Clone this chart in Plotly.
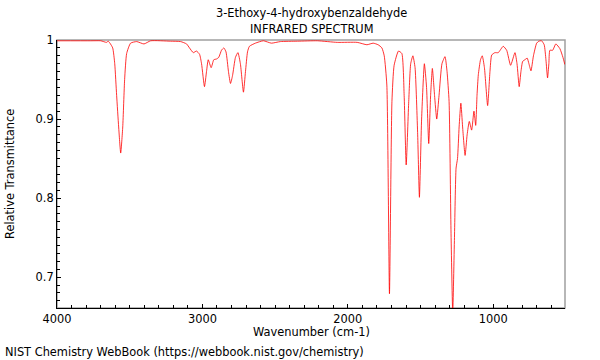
import plotly.graph_objects as go

title_line1 = "3-Ethoxy-4-hydroxybenzaldehyde"
title_line2 = "INFRARED SPECTRUM"
x_title = "Wavenumber (cm-1)"
y_title = "Relative Transmittance"
footer = "NIST Chemistry WebBook (https://webbook.nist.gov/chemistry)"

wavenumber = [
    4000, 3768, 3699, 3660, 3648, 3636, 3617, 3603, 3590, 3576, 3562, 3548, 3535, 3521,
    3494, 3452, 3402, 3356, 3219, 3150, 3109, 3089, 3063, 3041, 3020, 3006, 2986, 2972,
    2960, 2940, 2922, 2903, 2888, 2869, 2853, 2838, 2821, 2807, 2793, 2773, 2756, 2739,
    2718, 2704, 2690, 2677, 2636, 2581, 2526, 2464, 2347, 2210, 2073, 1936, 1869, 1826,
    1792, 1766, 1750, 1732, 1714, 1697, 1682, 1652, 1629, 1613, 1599, 1582, 1568, 1553,
    1538, 1520, 1508, 1493, 1474, 1459, 1444, 1431, 1419, 1404, 1389, 1373, 1353, 1332,
    1318, 1304, 1291, 1279, 1267, 1256, 1246, 1235, 1223, 1211, 1194, 1180, 1165, 1149,
    1133, 1121, 1112, 1103, 1088, 1076, 1061, 1039, 1023, 1011, 989, 966, 932, 908,
    881, 851, 837, 822, 810, 798, 783, 767, 755, 741, 724, 702, 687, 668, 650, 638,
    627, 618, 611, 592, 570, 542, 521, 508,
]
transmittance = [
    0.999, 0.999, 0.999, 0.997, 0.9985, 0.996, 0.99, 0.97, 0.93, 0.89, 0.857, 0.89, 0.95, 0.983,
    0.996, 0.998, 0.995, 0.999, 0.9985, 0.998, 0.995, 0.99, 0.984, 0.986, 0.982, 0.97, 0.941, 0.96,
    0.975, 0.965, 0.975, 0.976, 0.978, 0.987, 0.990, 0.985, 0.96, 0.945, 0.955, 0.978, 0.984, 0.97,
    0.934, 0.96, 0.985, 0.992, 0.996, 0.999, 0.996, 0.998, 0.9985, 0.999, 0.997, 0.997, 0.994, 0.996,
    0.994, 0.99, 0.98, 0.943, 0.679, 0.922, 0.968, 0.986, 0.983, 0.93, 0.842, 0.92, 0.97, 0.980,
    0.965, 0.88, 0.801, 0.90, 0.970, 0.94, 0.869, 0.93, 0.964, 0.93, 0.900, 0.93, 0.97, 0.979,
    0.96, 0.922, 0.76, 0.655, 0.75, 0.838, 0.85, 0.89, 0.920, 0.89, 0.854, 0.88, 0.897, 0.886,
    0.910, 0.892, 0.93, 0.956, 0.975, 0.980, 0.965, 0.917, 0.96, 0.981, 0.984, 0.984, 0.992, 0.987,
    0.968, 0.984, 0.97, 0.941, 0.96, 0.973, 0.975, 0.977, 0.97, 0.961, 0.98, 0.996, 0.9985, 0.999, 0.994, 0.975,
    0.952, 0.97, 0.987, 0.987, 0.995, 0.989, 0.978, 0.969,
]

x_range = [4000, 507]
y_range = [0.661, 1.0]
x_ticks = [4000, 3000, 2000, 1000]
y_ticks = [0.7, 0.8, 0.9, 1.0]
y_tick_text = ["0.7", "0.8", "0.9", "1"]

FONT = "DejaVu Sans"
FS = 11.4
L, R, T, B = 57, 35, 40, 52
PW, PH = 600 - L - R, 360 - T - B

fig = go.Figure()
fig.add_trace(go.Scatter(
    x=wavenumber, y=transmittance, mode="lines",
    line=dict(color="rgba(255,0,0,0.8)", width=1, shape="spline", smoothing=0.5),
    hoverinfo="x+y", showlegend=False,
))

def note(text, x, y, xanchor="center", angle=0):
    return dict(text=text, xref="paper", yref="paper", x=x, y=y, showarrow=False,
                xanchor=xanchor, yanchor="middle", textangle=angle,
                font=dict(family=FONT, size=FS, color="black"))

fig.update_layout(
    width=600, height=360,
    margin=dict(l=L, r=R, t=T, b=B, autoexpand=False),
    paper_bgcolor="white", plot_bgcolor="white",
    font=dict(family=FONT, size=FS, color="black"),
    showlegend=False,
    shapes=[dict(type="rect", xref="paper", yref="paper", x0=0, y0=0, x1=1, y1=1,
                 line=dict(color="#a0a0a0", width=1.5), layer="below")],
    annotations=[
        note(title_line1, 0.5, 1 + (40 - 13) / PH),
        note(title_line2, 0.5, 1 + (40 - 29) / PH),
        note(x_title, 0.5, -(332 - 308) / PH),
        note(y_title, -(L - 10) / PW, 0.5, angle=-90),
        note(footer, -(L - 3) / PW, -(352 - 308) / PH, xanchor="left"),
    ],
)

fig.update_xaxes(
    range=x_range, tickvals=x_ticks, ticks="inside", ticklen=4, tickcolor="black",
    showline=True, linecolor="black", linewidth=1, showgrid=False, zeroline=False,
    automargin=False, tickfont=dict(size=FS),
    minor=dict(dtick=100, tick0=0, ticks="inside", ticklen=3, tickcolor="black", showgrid=False),
)
fig.update_yaxes(
    range=y_range, tickvals=y_ticks, ticktext=y_tick_text, ticks="inside", ticklen=4,
    tickcolor="black", showline=True, linecolor="black", linewidth=1, showgrid=False,
    zeroline=False, automargin=False, tickfont=dict(size=FS),
    minor=dict(dtick=0.01, tick0=0, ticks="inside", ticklen=3, tickcolor="black", showgrid=False),
)

fig.write_html(
    "out.html",
    config={"displayModeBar": False},
    post_script="document.body.style.margin='0';document.body.style.overflow='hidden';",
)
